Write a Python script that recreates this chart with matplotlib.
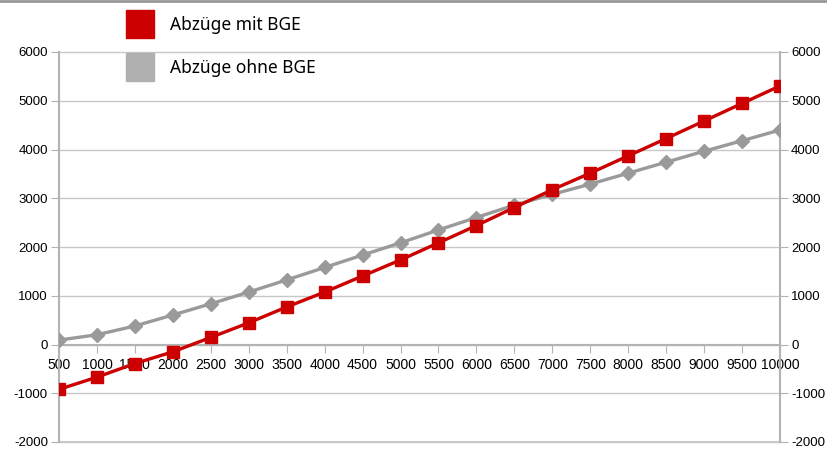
import matplotlib.pyplot as plt
from matplotlib.lines import Line2D

# data ---------------------------------------------------------------------------------

einkommen = [500, 1000, 1500, 2000, 2500, 3000, 3500, 4000, 4500, 5000,
             5500, 6000, 6500, 7000, 7500, 8000, 8500, 9000, 9500, 10000]
mit_bge = [-920, -670, -390, -150, 145, 445, 770, 1075, 1405, 1735,
           2085, 2440, 2810, 3175, 3515, 3870, 4225, 4585, 4945, 5305]
ohne_bge = [90, 200, 380, 605, 835, 1075, 1325, 1580, 1835, 2085,
            2350, 2605, 2860, 3080, 3290, 3515, 3740, 3965, 4180, 4400]
y_ticks = list(range(-2000, 6001, 1000))

red = "#cc0000"
grey = "#9a9a9a"
axis_grey = "#b3b3b3"

plt.rcParams["font.family"] = ["Liberation Sans", "DejaVu Sans"]

# plot ---------------------------------------------------------------------------------

fig = plt.figure(figsize=(8.28, 4.51), dpi=100)
ax = fig.add_axes([59 / 828, 9 / 451, 721 / 828, 390 / 451])

ax.plot(einkommen, ohne_bge, color=grey, lw=2.4, marker="D", ms=7, zorder=3)
ax.plot(einkommen, mit_bge, color=red, lw=2.4, marker="s", ms=9, zorder=4)

ax.set_xlim(500, 10000)
ax.set_ylim(-2000, 6000)
ax.set_xticks(einkommen)
ax.set_xticklabels([str(v) for v in einkommen], fontsize=9.5)
ax.set_yticks(y_ticks)
ax.set_yticklabels([str(v) for v in y_ticks], fontsize=9.5)
ax.grid(axis="y", color="#c8c8c8", lw=1, clip_on=False)
ax.set_axisbelow(True)
# bottom line at -2000
ax.axhline(-2000, color="#c8c8c8", lw=1.5, clip_on=False, zorder=0)

ax.spines["top"].set_visible(False)
ax.spines["bottom"].set_position(("data", 0))
for s in ["bottom", "left", "right"]:
    ax.spines[s].set_color(axis_grey)
    ax.spines[s].set_linewidth(1.5)

ax.tick_params(axis="x", direction="out", length=6, color=axis_grey, pad=4)
ax.tick_params(axis="y", direction="out", length=6, color=axis_grey, pad=2,
               left=True, right=True, labelleft=True, labelright=True)

# legend
handles = [
    Line2D([], [], color=red, marker="s", ms=20, ls="none"),
    Line2D([], [], color="#b0b0b0", marker="s", ms=20, ls="none"),
]
fig.legend(handles, ["Abzüge mit BGE", "Abzüge ohne BGE"],
           loc="upper left", bbox_to_anchor=(114 / 828, 1 - 7 / 451),
           frameon=False, prop={"family": "Noto Sans", "size": 12.5},
           labelspacing=1.45, handletextpad=0.7, borderpad=0)

# frame line at top of the image
fig.add_artist(Line2D([0, 1], [1 - 1 / 451, 1 - 1 / 451], color="#999999", lw=2,
                      transform=fig.transFigure))

fig.savefig("out.png", dpi=100)
